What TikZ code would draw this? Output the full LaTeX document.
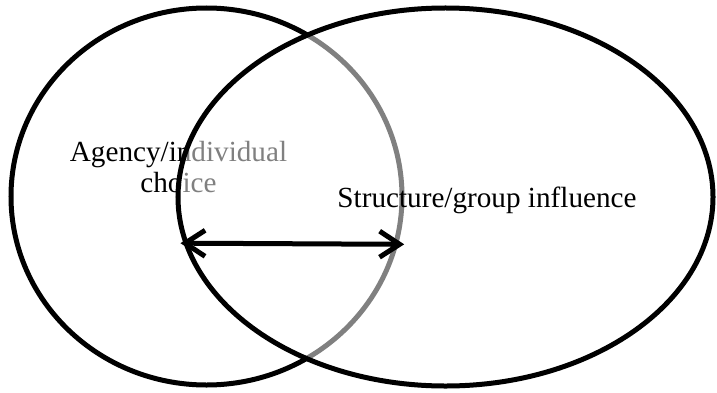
\documentclass[tikz,border=0pt]{standalone}
\usepackage{fontspec}
\setmainfont{Liberation Serif}
\usetikzlibrary{positioning,arrows.meta,shapes.geometric}

\begin{document}
\begin{tikzpicture}[x=1bp,y=1bp,
  circ/.style={draw,ellipse,line width=5bp,inner sep=0pt},
  lbl/.style={font=\fontsize{29.3}{31}\selectfont,align=center}]
\useasboundingbox (0,0) rectangle (717,392);
% agency side
\node[circ,minimum width=391bp,minimum height=377bp] (agency) at (206.5,195.5) {};
\node[lbl,anchor=base] (agencytxt) at (178.5,200) {Agency/individual\\choice};
% structure side, half see-through so the left one shows grey under it
\node[circ,fill=white,fill opacity=0.5,minimum width=535bp,minimum height=378bp] (structure) at (445.5,195) {};
\node[lbl,anchor=base] (structtxt) at (487,185) {Structure/group influence};
\draw[line width=5bp,{Straight Barb[length=20bp,width=26bp]}-{Straight Barb[length=20bp,width=26bp]},shorten <=-3bp,shorten >=-6bp]
  (structure.190) -- (agency.-14);
\end{tikzpicture}
\end{document}
